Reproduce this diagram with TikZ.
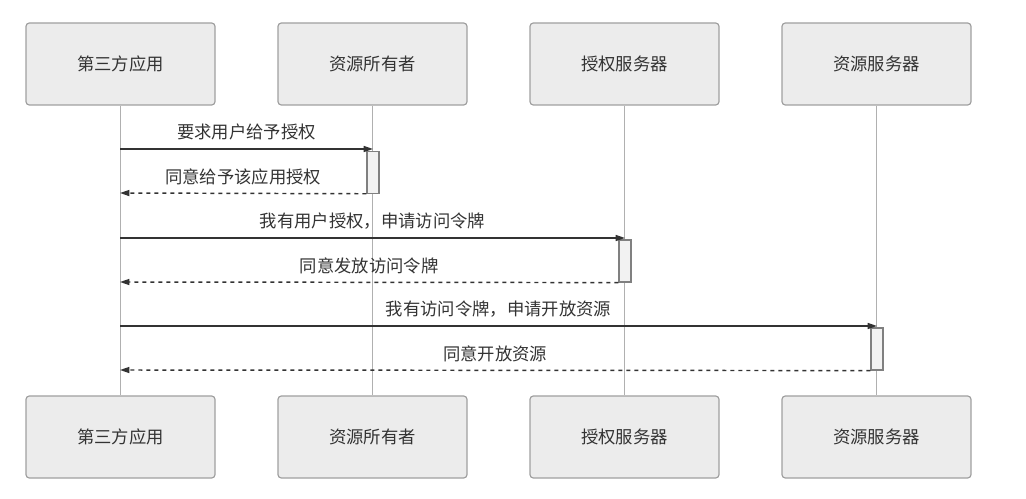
\documentclass[tikz,border=0pt]{standalone}
\usepackage{fontspec}
\newfontfamily\cjk{Noto Sans CJK SC}
\usetikzlibrary{arrows.meta}
\definecolor{boxfill}{HTML}{ECECEC}
\definecolor{boxdraw}{HTML}{A0A0A0}
\definecolor{lifeline}{HTML}{B0B0B0}
\definecolor{msg}{HTML}{333333}
\definecolor{actfill}{HTML}{F2F2F2}
\definecolor{actdraw}{HTML}{808080}
\begin{document}
\begin{tikzpicture}[x=0.75pt,y=-0.75pt,
  actor/.style={draw=boxdraw,fill=boxfill,rounded corners=2.5pt,line width=0.9pt,minimum width=141.75pt,minimum height=61.5pt,inner sep=0pt,font=\cjk\fontsize{13}{15}\selectfont,text=msg},
  life/.style={draw=lifeline,line width=0.75pt},
  act/.style={draw=actdraw,fill=actfill,line width=0.9pt,minimum width=9pt,inner sep=0pt},
  req/.style={draw=msg,line width=1.1pt,-{Triangle[length=7pt,width=4.5pt]}},
  rep/.style={draw=msg,line width=1.1pt,dashed,dash pattern=on 3pt off 3pt,-{Triangle[length=7pt,width=4.5pt]}},
  lbl/.style={font=\cjk\fontsize{13}{15}\selectfont,text=msg,inner sep=0pt}]
\useasboundingbox (0,0) rectangle (1026,499);
% top actors
\node[actor] (a1) at (120.5,64) {第三方应用};
\node[actor] (a2) at (372.5,64) {资源所有者};
\node[actor] (a3) at (624.5,64) {授权服务器};
\node[actor] (a4) at (876.5,64) {资源服务器};
% bottom actors
\node[actor] (b1) at (120.5,437) {第三方应用};
\node[actor] (b2) at (372.5,437) {资源所有者};
\node[actor] (b3) at (624.5,437) {授权服务器};
\node[actor] (b4) at (876.5,437) {资源服务器};
% lifelines
\draw[life] (a1.south) -- (b1.north);
\draw[life] (a2.south) -- (b2.north);
\draw[life] (a3.south) -- (b3.north);
\draw[life] (a4.south) -- (b4.north);
% activations
\node[act,minimum height=31pt] (x1) at (373,172.5) {};
\node[act,minimum height=31.5pt] (x2) at (625,261) {};
\node[act,minimum height=31.5pt] (x3) at (877,349) {};
% coordinates on lifeline 1
\coordinate (p1) at (120,149);
\coordinate (q1) at (120,193);
\coordinate (p2) at (120,238);
\coordinate (q2) at (120,282);
\coordinate (p3) at (120,326);
\coordinate (q3) at (120,370);
\coordinate (t1) at (373,149);
\coordinate (t2) at (625,238);
\coordinate (t3) at (877,326);
% messages
\draw[req] (p1) -- node[lbl,above=6pt] {要求用户给予授权} (t1);
\draw[rep] (x1.south west) -- node[lbl,above=6pt] {同意给予该应用授权} (q1);
\draw[req] (p2) -- node[lbl,above=6pt] {我有用户授权，申请访问令牌} (t2);
\draw[rep] (x2.south west) -- node[lbl,above=6pt] {同意发放访问令牌} (q2);
\draw[req] (p3) -- node[lbl,above=6pt] {我有访问令牌，申请开放资源} (t3);
\draw[rep] (x3.south west) -- node[lbl,above=6pt] {同意开放资源} (q3);
\end{tikzpicture}
\end{document}
